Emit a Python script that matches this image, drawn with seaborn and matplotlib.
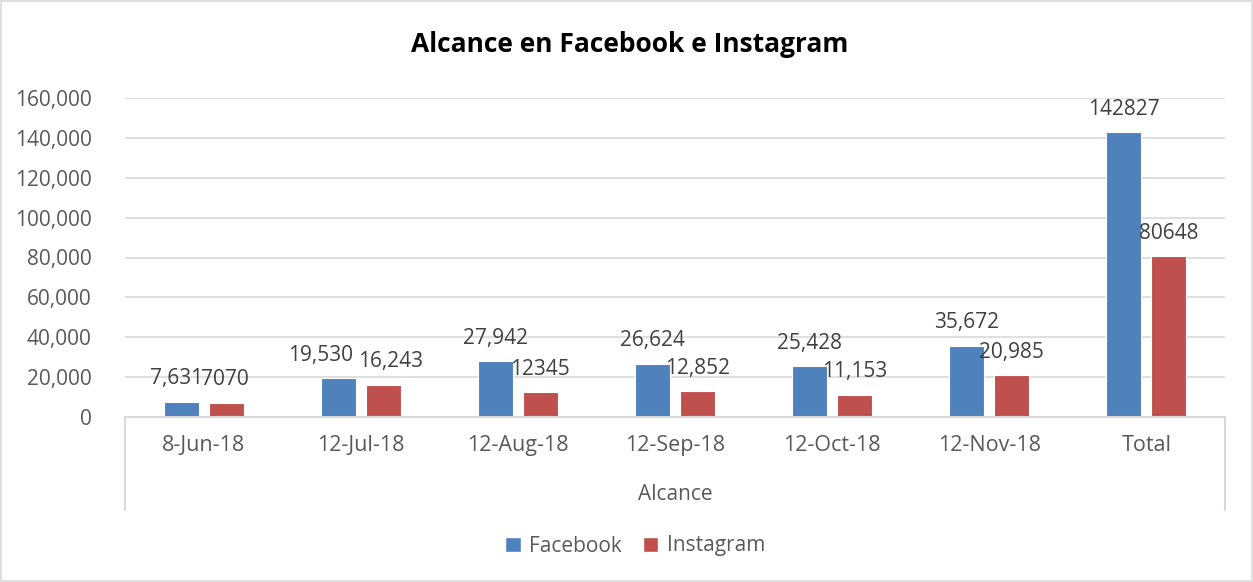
import matplotlib
matplotlib.use("Agg")
import matplotlib.pyplot as plt
from matplotlib.patches import Rectangle
from matplotlib.ticker import FuncFormatter
import seaborn as sns
import pandas as pd

categories = ["8-Jun-18", "12-Jul-18", "12-Aug-18", "12-Sep-18", "12-Oct-18", "12-Nov-18", "Total"]
facebook = [7631, 19530, 27942, 26624, 25428, 35672, 142827]
instagram = [7070, 16243, 12345, 12852, 11153, 20985, 80648]
facebook_labels = ["7,631", "19,530", "27,942", "26,624", "25,428", "35,672", "142827"]
instagram_labels = ["7070", "16,243", "12345", "12,852", "11,153", "20,985", "80648"]
series = ["Facebook", "Instagram"]
colors = ["#4F81BD", "#C0504D"]
y_ticks = [0, 20000, 40000, 60000, 80000, 100000, 120000, 140000, 160000]

# horizontal nudges (points) of data labels, as in the reference
facebook_label_dx = [-3, -13, 0, 0, 0, 0, 0]
instagram_label_dx = [-1, 5, 0, 0, 0, 0, 0]

df = pd.DataFrame({
    "cat": categories * 2,
    "serie": ["Facebook"] * len(categories) + ["Instagram"] * len(categories),
    "valor": facebook + instagram,
})

sns.set_theme(style="white")
plt.rcParams["font.family"] = ["Open Sans", "DejaVu Sans"]

W, H = 1253, 582
fig = plt.figure(figsize=(W / 100, H / 100), dpi=100)
ax = fig.add_axes([125 / W, 1 - 417 / H, 1100 / W, 319 / H])

sns.barplot(data=df, x="cat", y="valor", hue="serie", order=categories,
            hue_order=series, palette=colors, saturation=1, width=0.573, gap=0.222,
            edgecolor="white", linewidth=0.8, ax=ax, legend=False)

ax.set_xlim(-0.5, len(categories) - 0.5)
ax.set_ylim(0, 160000)
ax.set_yticks(y_ticks)
ax.yaxis.set_major_formatter(FuncFormatter(lambda v, p: f"{int(v):,}"))
ax.grid(axis="y", color="#D9D9D9", linewidth=1.2)
ax.set_axisbelow(True)
for s in ["top", "right", "left"]:
    ax.spines[s].set_visible(False)
ax.spines["bottom"].set_color("#D9D9D9")
ax.spines["bottom"].set_linewidth(1.5)
ax.tick_params(axis="y", length=0, pad=24, labelsize=15, labelcolor="#595959")
ax.tick_params(axis="x", length=0, pad=13, labelsize=15.5, labelcolor="#595959")
ax.set_xlabel("")
ax.set_ylabel("")

for cont, labs, dxs in zip(ax.containers, [facebook_labels, instagram_labels],
                           [facebook_label_dx, instagram_label_dx]):
    anns = ax.bar_label(cont, labels=labs, padding=9, fontsize=15, color="#404040")
    for ann, dx in zip(anns, dxs):
        ann.xyann = (dx, ann.xyann[1])

# group axis box lines below the axis
for xa in [0, 1]:
    ax.plot([xa, xa], [0, -93 / 319], transform=ax.transAxes, color="#D9D9D9",
            linewidth=1.5, clip_on=False)
ax.text(0.5, -77 / 319, "Alcance", transform=ax.transAxes, ha="center", va="center",
        fontsize=15, color="#595959")

fig.text(630 / W, 1 - 45 / H, "Alcance en Facebook e Instagram", ha="center", va="center",
         fontsize=19, fontweight="bold", color="black")

handles = [Rectangle((0, 0), 1, 1, facecolor=c) for c in colors]
fig.legend(handles, series, loc="center", bbox_to_anchor=(635 / W, 1 - 546 / H),
           ncol=2, frameon=False, fontsize=15, handlelength=0.75, handleheight=0.75,
           columnspacing=1.0, handletextpad=0.4, labelcolor="#595959")

fig.patches.append(Rectangle((1 / W, 1 / H), 1 - 2 / W, 1 - 2 / H, transform=fig.transFigure,
                             fill=False, edgecolor="#D9D9D9", linewidth=1.2))

fig.savefig("out.png", dpi=100)
